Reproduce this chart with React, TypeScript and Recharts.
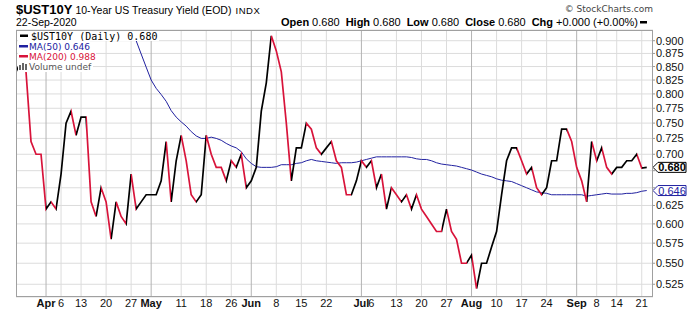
import React from 'react';
import { LineChart, Line, XAxis, YAxis, CartesianGrid, ReferenceLine } from 'recharts';

// trading-day index 0 = 24-Mar-2020 ... 126 = 22-Sep-2020
const price = [
  0.84, 0.86, 0.84, 0.72, 0.70, 0.70, 0.62, 0.63, 0.62, 0.67,
  0.75, 0.77, 0.73, 0.76, 0.76, 0.63, 0.61, 0.65, 0.63, 0.58,
  0.63, 0.61, 0.60, 0.67, 0.62, 0.63, 0.64, 0.64, 0.64, 0.66,
  0.72, 0.63, 0.69, 0.73, 0.69, 0.64, 0.63, 0.64, 0.73, 0.70,
  0.68, 0.68, 0.66, 0.69, 0.68, 0.70, 0.65, 0.66, 0.68, 0.77,
  0.82, 0.91, 0.88, 0.84, 0.75, 0.66, 0.71, 0.71, 0.75, 0.74,
  0.71, 0.70, 0.71, 0.72, 0.69, 0.68, 0.64, 0.64, 0.66, 0.69,
  0.68, 0.69, 0.65, 0.67, 0.62, 0.65, 0.64, 0.63, 0.64, 0.62,
  0.64, 0.62, 0.61, 0.60, 0.59, 0.59, 0.62, 0.59, 0.58, 0.55,
  0.55, 0.56, 0.52, 0.55, 0.55, 0.57, 0.59, 0.64, 0.69, 0.71,
  0.71, 0.69, 0.67, 0.68, 0.65, 0.64, 0.65, 0.69, 0.69, 0.74,
  0.74, 0.72, 0.68, 0.66, 0.63, 0.72, 0.69, 0.71, 0.68, 0.67,
  0.68, 0.68, 0.69, 0.69, 0.70, 0.679, 0.68,
];

const ma50 = [
  null, null, null, null, null, null, null, null, null, null,
  null, null, null, null, null, null, null, null, null, null,
  null, 0.98, 0.95, 0.925, 0.90, 0.874, 0.849, 0.825, 0.81, 0.799,
  0.787, 0.771, 0.76, 0.752, 0.745, 0.736, 0.729, 0.725, 0.725, 0.727,
  0.725, 0.722, 0.717, 0.713, 0.71, 0.704, 0.693, 0.686, 0.681, 0.68,
  0.68, 0.68, 0.681, 0.684, 0.684, 0.684, 0.686, 0.687, 0.69, 0.692,
  0.69, 0.689, 0.688, 0.687, 0.686, 0.687, 0.687, 0.687, 0.688, 0.69,
  0.692, 0.694, 0.696, 0.696, 0.696, 0.696, 0.696, 0.696, 0.696, 0.695,
  0.693, 0.692, 0.692, 0.69, 0.687, 0.685, 0.684, 0.683, 0.682, 0.68,
  0.678, 0.676, 0.673, 0.67, 0.668, 0.666, 0.663, 0.661, 0.66, 0.659,
  0.656, 0.653, 0.65, 0.647, 0.644, 0.643, 0.642, 0.64, 0.64, 0.64,
  0.64, 0.64, 0.64, 0.64, 0.638, 0.639, 0.64, 0.641, 0.642, 0.641,
  0.641, 0.641, 0.642, 0.642, 0.643, 0.645, 0.646,
];

const dayTicks = [6, 9, 13, 18, 23, 27, 33, 38, 43, 47, 52, 57, 62, 69, 71, 76, 81, 86, 91, 96, 101, 106, 112, 116, 120, 125];
const dayLabels = ['Apr', '6', '13', '20', '27', 'May', '11', '18', '26', 'Jun', '8', '15', '22', 'Jul', '6', '13', '20', '27', 'Aug', '10', '17', '24', 'Sep', '8', '14', '21'];
const monthTicks = [6, 27, 47, 69, 91, 112];
const weekGrid = [9, 13, 18, 23, 33, 38, 43, 52, 57, 62, 76, 81, 86, 96, 101, 106, 116, 120, 125];
const yTicks = [0.525, 0.55, 0.575, 0.6, 0.625, 0.65, 0.675, 0.7, 0.725, 0.75, 0.775, 0.8, 0.825, 0.85, 0.875, 0.9];
const hiddenYLabels = [0.65, 0.675];

const lastClose = 0.68;
const lastMa50 = 0.646;

const UP = '#000000';
const DOWN = '#d8133a';
const BLUE = '#2121a0';
const SANS = '"Liberation Sans", Arial, sans-serif';

const data = price.map((p, i) => ({ i, p, m: ma50[i] }));

// up-day segments black, down-day segments red, unchanged keeps previous colour
const segColors: string[] = [];
let rising = true;
for (let k = 1; k < price.length; k++) {
  if (price[k] > price[k - 1]) rising = true;
  else if (price[k] < price[k - 1]) rising = false;
  segColors.push(rising ? UP : DOWN);
}
const nSeg = price.length - 1;

const YTick = ({ x, y, payload }: any) => {
  if (hiddenYLabels.includes(payload.value)) return <g />;
  return (
    <text x={x} y={y} dy="0.36em" fontFamily={SANS} fontSize={11} fill="#111" textAnchor="start">
      {payload.value.toFixed(3)}
    </text>
  );
};

const XTick = ({ x, y, payload }: any) => {
  const idx = dayTicks.indexOf(payload.value);
  const label = dayLabels[idx];
  const isMonth = monthTicks.includes(payload.value);
  return (
    <text x={x} y={y + 10} textAnchor="middle" fontFamily={SANS} fontSize={11}
      fontWeight={isMonth ? 'bold' : 'normal'} fill="#111">
      {label}
    </text>
  );
};

const PriceTag = ({ viewBox, text, color, bold }: any) => {
  const x = viewBox.x + viewBox.width;
  const y = viewBox.y;
  return (
    <g>
      <path d={`M${x},${y} L${x + 5},${y - 5} H${x + 33} V${y + 5} H${x + 5} Z`} fill="#fff" stroke={color} strokeWidth={1} />
      <text x={x + 19} y={y} dy="0.36em" textAnchor="middle" fontFamily={SANS} fontSize={11}
        fontWeight={bold ? 'bold' : 'normal'} fill={color}>
        {text}
      </text>
    </g>
  );
};

export default function App() {
  return (
    <div style={{ position: 'absolute', left: 0, top: 0, width: 700, height: 330, background: '#fff' }}>
      <svg width={0} height={0} style={{ position: 'absolute' }}>
        <defs>
          <linearGradient id="priceStroke" x1="0" y1="0" x2="1" y2="0">
            {segColors.flatMap((c, k) => [
              <stop key={`a${k}`} offset={k / nSeg} stopColor={c} />,
              <stop key={`b${k}`} offset={(k + 1) / nSeg} stopColor={c} />,
            ])}
          </linearGradient>
        </defs>
      </svg>

      <LineChart width={700} height={330} data={data} margin={{ top: 30, right: 0, left: 16, bottom: 0 }}>
        <CartesianGrid stroke="#dcdcdc" verticalValues={weekGrid} />
        <XAxis dataKey="i" type="number" domain={[0, 127.25]} allowDataOverflow ticks={dayTicks}
          interval={0} tick={<XTick />} tickLine={false} tickSize={0} tickMargin={0}
          axisLine={false} height={33} />
        <YAxis orientation="right" scale="log" domain={[0.5104, 0.9216]} allowDataOverflow
          ticks={yTicks} interval={0} tick={<YTick />} width={47} tickSize={2} tickMargin={1}
          tickLine={{ stroke: '#999' }} axisLine={false} />
        {monthTicks.map((m) => (
          <ReferenceLine key={m} x={m} stroke="#b4b4b4" strokeWidth={1} />
        ))}
        <Line dataKey="m" type="linear" stroke={BLUE} strokeWidth={1} dot={false} isAnimationActive={false} />
        <Line dataKey="p" type="linear" stroke="url(#priceStroke)" strokeWidth={1.7} dot={false}
          isAnimationActive={false} />
        <ReferenceLine y={lastMa50} stroke="none"
          label={(props: any) => <PriceTag {...props} text={lastMa50.toFixed(3)} color={BLUE} />} />
        <ReferenceLine y={lastClose} stroke="none"
          label={(props: any) => <PriceTag {...props} text={lastClose.toFixed(3)} color="#000" bold />} />
      </LineChart>

      <svg width={700} height={330} style={{ position: 'absolute', left: 0, top: 0, pointerEvents: 'none' }}>
        {/* plot frame */}
        <rect x={16.5} y={30.5} width={636} height={266} fill="none" stroke="#a0a0a0" />

        {/* title lines */}
        <text x={16} y={14} fontFamily={SANS} fill="#000">
          <tspan fontSize={13} fontWeight="bold">$UST10Y</tspan>
          <tspan dx={3} fontSize={10.5}>10-Year US Treasury Yield (EOD)</tspan>
          <tspan dx={4} fontSize={9.5} letterSpacing={0.6}>INDX</tspan>
        </text>
        <text x={16} y={26} fontFamily={SANS} fontSize={10.5} fill="#000">22-Sep-2020</text>
        <text x={653} y={12} textAnchor="end" fontFamily='"DejaVu Sans", sans-serif' fontSize={9} fill="#444">
          © StockCharts.com
        </text>
        <text x={638} y={26} textAnchor="end" fontFamily={SANS} fontSize={11} fill="#000">
          <tspan fontWeight="bold">Open</tspan>
          <tspan dx={3}>0.680</tspan>
          <tspan dx={6} fontWeight="bold">High</tspan>
          <tspan dx={3}>0.680</tspan>
          <tspan dx={6} fontWeight="bold">Low</tspan>
          <tspan dx={3}>0.680</tspan>
          <tspan dx={6} fontWeight="bold">Close</tspan>
          <tspan dx={3}>0.680</tspan>
          <tspan dx={6} fontWeight="bold">Chg</tspan>
          <tspan dx={3}>+0.000 (+0.00%)</tspan>
        </text>
        <rect x={640} y={21} width={7} height={2.5} fill="#000" />

        {/* legend */}
        <rect x={18} y={31} width={141} height={10} fill="#fff" />
        <rect x={20} y={34.5} width={8} height={2.5} fill="#000" />
        <text x={31} y={39.5} fontFamily='"DejaVu Sans Mono", monospace' fontSize={10} fill="#000">
          $UST10Y (Daily) 0.680
        </text>
        <rect x={18} y={41} width={72} height={10} fill="#fff" />
        <rect x={19} y={45} width={9} height={2.5} fill={BLUE} />
        <text x={29} y={50} fontFamily='"DejaVu Sans", sans-serif' fontSize={9} fill={BLUE}>MA(50) 0.646</text>
        <rect x={18} y={51} width={78} height={10} fill="#fff" />
        <rect x={19} y={55} width={9} height={2.5} fill={DOWN} />
        <text x={29} y={60} fontFamily='"DejaVu Sans", sans-serif' fontSize={9} fill={DOWN}>MA(200) 0.988</text>
        <rect x={18} y={61} width={75} height={11} fill="#fff" />
        <rect x={19} y={65} width={2} height={5} fill="#666" />
        <rect x={22} y={63} width={2} height={7} fill="#666" />
        <rect x={25} y={64} width={2} height={6} fill="#666" />
        <text x={29} y={70} fontFamily='"DejaVu Sans", sans-serif' fontSize={9} fill="#555">Volume undef</text>
      </svg>
    </div>
  );
}
